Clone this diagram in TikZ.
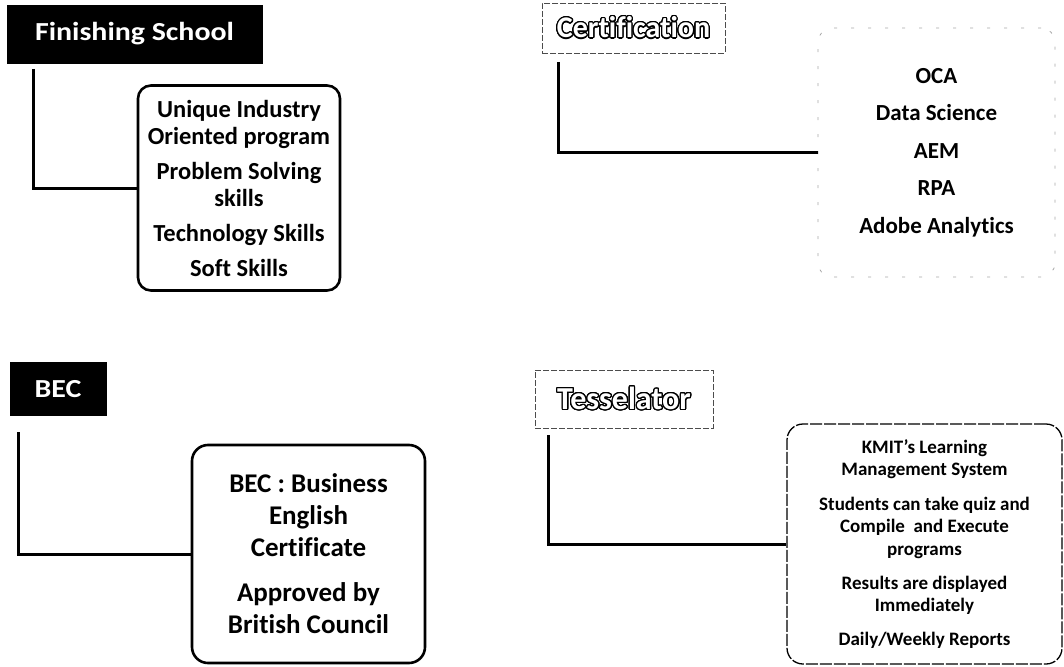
\documentclass[tikz,border=0pt]{standalone}
\usepackage{fontspec}
\setmainfont[Ligatures=NoCommon]{Carlito}
\usepackage{contour}
\contourlength{1.2pt}
\contournumber{24}
\begin{document}
\begin{tikzpicture}[x=1pt,y=-1pt,
  hdrblack/.style={fill=black,draw=black,text=white,font=\bfseries\fontsize{26}{30}\selectfont,inner sep=0pt,anchor=center},
  hdrlight/.style={draw=black!70,dashed,dash pattern=on 6pt off 2pt,line width=0.8pt,fill=white,inner sep=0pt,anchor=center,font=\bfseries\fontsize{30}{34}\selectfont},
  infobox/.style={draw=black,line width=2.6pt,rounded corners=13pt,align=center,inner sep=0pt,anchor=center},
  conn/.style={draw=black,line width=3pt}
]
\useasboundingbox (0,0) rectangle (1064,666);

% ---------- Finishing School ----------
\node[hdrblack,minimum width=255pt,minimum height=58pt] (h1) at (134.5,34) {\scalebox{1.15}[1]{Finishing School}};
\node[infobox,font={\bfseries\fontsize{24.5}{27}\selectfont},minimum width=202pt,minimum height=205pt] (b1) at (239,188)
  {Unique Industry\\Oriented program\\[8pt]Problem Solving\\skills\\[8pt]Technology Skills\\[8pt]Soft Skills};
\coordinate (c1) at (33,69);
\draw[conn] (c1) |- (b1.west);

% ---------- Certification ----------
\node[hdrlight,minimum width=183pt,minimum height=50pt] (h2) at (633.5,28) {\contour{black}{\textcolor{white}{Certification}}};
\node[infobox,font={\bfseries\fontsize{23}{37.5}\selectfont},draw=black!35,line width=0.8pt,dash pattern=on 3pt off 14pt,rounded corners=14pt,minimum width=237pt,minimum height=249pt] (b2) at (936.5,152.5)
  {OCA\\Data Science\\AEM\\RPA\\Adobe Analytics};
\coordinate (c2) at (558,62);
\draw[conn] (c2) |- (b2.west);

% ---------- BEC ----------
\node[hdrblack,minimum width=96pt,minimum height=53pt] (h3) at (58,389) {\scalebox{1.15}[1]{BEC}};
\node[infobox,font={\bfseries\fontsize{27}{32}\selectfont},rounded corners=16pt,minimum width=233pt,minimum height=218pt] (b3) at (308.5,554)
  {BEC : Business\\English\\Certificate\\[13pt]Approved by\\British Council};
\coordinate (c3) at (18,432);
\draw[conn] (c3) |- (b3.west);

% ---------- Tesselator ----------
\node[hdrlight,font={\bfseries\fontsize{32}{36}\selectfont},minimum width=178pt,minimum height=58pt] (h4) at (624,399) {\contour{black}{\textcolor{white}{Tesselator}}};
\node[infobox,font={\bfseries\fontsize{19}{22.5}\selectfont},line width=1.3pt,dash pattern=on 12pt off 2pt,rounded corners=16pt,minimum width=275pt,minimum height=240pt] (b4) at (924.5,544)
  {KMIT's Learning\\Management System\\[12pt]Students can take quiz and\\Compile~ and Execute\\programs\\[11.5pt]Results are displayed\\Immediately\\[11.5pt]Daily/Weekly Reports};
\coordinate (c4) at (548,435);
\draw[conn] (c4) |- (b4.west);
\end{tikzpicture}
\end{document}
